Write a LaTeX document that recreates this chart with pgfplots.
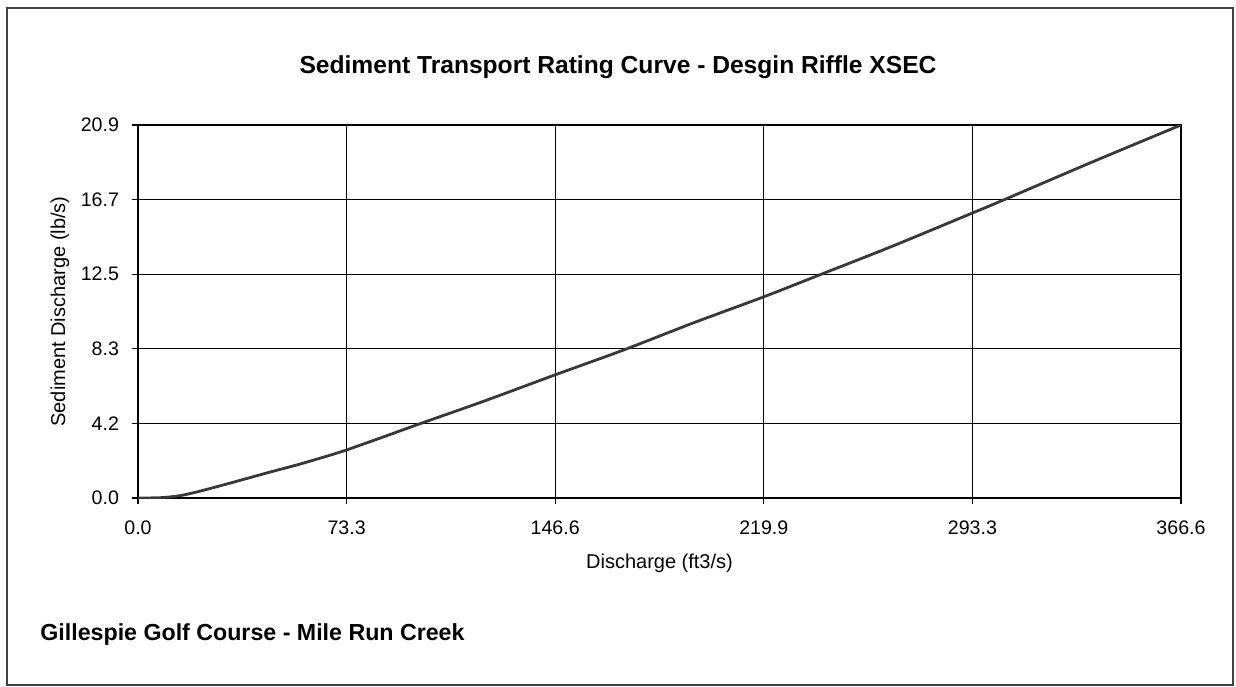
\documentclass[border=0pt]{standalone}
\usepackage{fontspec}
\setmainfont{Liberation Sans}
\usepackage{pgfplots}
\pgfplotsset{compat=1.18}
\begin{document}
\begin{tikzpicture}[x=1pt,y=1pt]
\path (0,0) rectangle (618,343);
\draw[black!75, line width=0.6pt] (3.5,0.5) rectangle (616.5,339);
\node[font=\bfseries\fontsize{12.3}{14}\selectfont] at (309,309.5) {Sediment Transport Rating Curve - Desgin Riffle XSEC};
\node[anchor=west, inner sep=0pt, font=\bfseries\fontsize{11.6}{13}\selectfont] at (20,26) {Gillespie Golf Course - Mile Run Creek};
\begin{axis}[
  at={(69pt,94pt)}, anchor=south west,
  scale only axis, width=521.5pt, height=186.5pt,
  xmin=0, xmax=366.6, ymin=0, ymax=20.9,
  xtick={0,73.32,146.64,219.96,293.28,366.6},
  xticklabels={0.0,73.3,146.6,219.9,293.3,366.6},
  ytick={0,4.18,8.36,12.54,16.72,20.9},
  yticklabels={0.0,4.2,8.3,12.5,16.7,20.9},
  grid=major,
  major grid style={black, line width=0.6pt},
  axis line style={black, line width=0.8pt},
  tick pos=left, tick align=outside, major tick length=3pt,
  tick style={black, line width=0.6pt},
  /pgf/number format/assume math mode=true,
  ticklabel style={font=\fontsize{9.8}{11}\selectfont},
  xticklabel style={yshift=-5pt},
  yticklabel style={xshift=-3pt},
  xlabel={Discharge (ft3/s)},
  ylabel={Sediment Discharge (lb/s)},
  label style={font=\fontsize{10}{12}\selectfont},
  xlabel style={at={(axis description cs:0.5,-0.1743)}, anchor=center},
  ylabel style={at={(axis description cs:-0.0748,0.5)}, anchor=center},
]
\addplot[line width=1.4pt, black!78, smooth] coordinates {
(0,0) (8,0.02) (14.7,0.13) (21.7,0.38) (33.4,0.88) (45.2,1.40) (56.9,1.90)
(68.6,2.45) (73.3,2.69) (86.2,3.42) (98.9,4.15) (122,5.45) (146.6,6.9)
(170.8,8.3) (195,9.8) (219.9,11.27) (240.2,12.54) (265,14.1) (293.3,15.97)
(303.5,16.65) (335,18.8) (366.6,20.9)
};
\end{axis}
\end{tikzpicture}
\end{document}
